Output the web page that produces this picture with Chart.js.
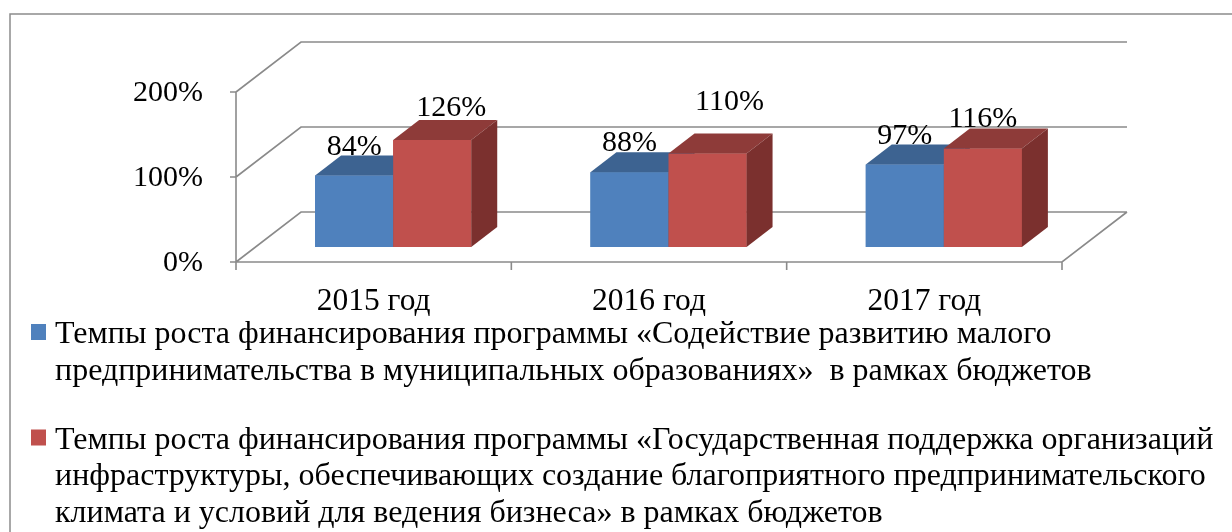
<!DOCTYPE html>
<html>
<head>
<meta charset="utf-8">
<script src="https://cdn.jsdelivr.net/npm/chart.js@4"></script>
<style>
  html, body { margin: 0; padding: 0; background: #fff; }
  canvas { display: block; }
</style>
</head>
<body>
<canvas id="grafica" width="1232" height="532"></canvas>
<script>
// данные
const categories = ['2015 год', '2016 год', '2017 год'];
const smallBizGrowth = [84, 88, 97];
const infraGrowth = [126, 110, 116];
const yTicks = [0, 100, 200];
const smallBizLegend = [
  'Темпы роста финансирования программы «Содействие развитию малого',
  'предпринимательства в муниципальных образованиях»  в рамках бюджетов'
];
const infraLegend = [
  'Темпы роста финансирования программы «Государственная поддержка организаций',
  'инфраструктуры, обеспечивающих создание благоприятного предпринимательского',
  'климата и условий для ведения бизнеса» в рамках бюджетов'
];

const FONT = '30px "Liberation Serif", "Times New Roman", serif';
const CAT_FONT = '31.5px "Liberation Serif", "Times New Roman", serif';
const LEGEND_FONT = '32px "Liberation Serif", "Times New Roman", serif';
const GRID = '#8a8a8a';
// смещения плоскостей относительно передней грани столбцов
const FRONT = { x: -19.5, y: 15 };
const BACK = { x: 45.5, y: -35 };
const DEPTH = { x: 26, y: -20 };

const faceColors = [
  { top: '#3d6391', side: '#34557f' },
  { top: '#8e3b39', side: '#7b302e' }
];

const excel3d = {
  id: 'excel3d',
  beforeDraw(chart) {
    const ctx = chart.ctx;
    ctx.save();
    ctx.strokeStyle = '#8c8c8c';
    ctx.lineWidth = 1.5;
    ctx.strokeRect(10, 14, 1300, 600);
    ctx.restore();
  },
  beforeDatasetsDraw(chart) {
    const ctx = chart.ctx;
    const a = chart.chartArea;
    const ys = chart.scales.y;
    const xs = chart.scales.x;
    ctx.save();
    ctx.strokeStyle = GRID;
    ctx.lineWidth = 1.6;
    ctx.beginPath();
    yTicks.forEach(v => {
      const y = ys.getPixelForValue(v);
      ctx.moveTo(a.left + FRONT.x, y + FRONT.y);
      ctx.lineTo(a.left + BACK.x, y + BACK.y);
      ctx.lineTo(a.right + BACK.x, y + BACK.y);
      // засечки
      ctx.moveTo(a.left + FRONT.x - 6, y + FRONT.y);
      ctx.lineTo(a.left + FRONT.x, y + FRONT.y);
    });
    // ось Y
    ctx.moveTo(a.left + FRONT.x, a.top + FRONT.y);
    ctx.lineTo(a.left + FRONT.x, a.bottom + FRONT.y + 8);
    // пол
    ctx.moveTo(a.left + FRONT.x, a.bottom + FRONT.y);
    ctx.lineTo(a.right + FRONT.x, a.bottom + FRONT.y);
    ctx.lineTo(a.right + BACK.x, a.bottom + BACK.y);
    const n = categories.length;
    for (let i = 1; i <= n; i++) {
      const x = a.left + FRONT.x + i * (a.right - a.left) / n;
      ctx.moveTo(x, a.bottom + FRONT.y);
      ctx.lineTo(x, a.bottom + FRONT.y + 8);
    }
    ctx.stroke();

    ctx.fillStyle = '#000';
    ctx.font = FONT;
    ctx.textAlign = 'right';
    ctx.textBaseline = 'middle';
    yTicks.forEach(v => {
      ctx.fillText(v + '%', a.left + FRONT.x - 33, ys.getPixelForValue(v) + FRONT.y + 1);
    });
    ctx.font = CAT_FONT;
    ctx.textAlign = 'center';
    ctx.textBaseline = 'alphabetic';
    categories.forEach((c, i) => {
      ctx.fillText(c, xs.getPixelForValue(i) + FRONT.x, a.bottom + FRONT.y + 48);
    });
    ctx.restore();
  },
  afterDatasetsDraw(chart, args, opts) {
    const ctx = chart.ctx;
    const metas = chart.data.datasets.map((d, i) => chart.getDatasetMeta(i));
    ctx.save();
    for (let j = 0; j < categories.length; j++) {
      metas.forEach((meta, i) => {
        const el = meta.data[j];
        const p = el.getProps(['x', 'y', 'base', 'width'], true);
        const x0 = p.x - p.width / 2, x1 = p.x + p.width / 2;
        el.draw(ctx);
        ctx.fillStyle = faceColors[i].top;
        ctx.beginPath();
        ctx.moveTo(x0, p.y);
        ctx.lineTo(x1, p.y);
        ctx.lineTo(x1 + DEPTH.x, p.y + DEPTH.y);
        ctx.lineTo(x0 + DEPTH.x, p.y + DEPTH.y);
        ctx.closePath();
        ctx.fill();
        ctx.fillStyle = faceColors[i].side;
        ctx.beginPath();
        ctx.moveTo(x1, p.y);
        ctx.lineTo(x1 + DEPTH.x, p.y + DEPTH.y);
        ctx.lineTo(x1 + DEPTH.x, p.base + DEPTH.y);
        ctx.lineTo(x1, p.base);
        ctx.closePath();
        ctx.fill();
      });
    }
    // подписи данных
    ctx.fillStyle = '#000';
    ctx.font = FONT;
    ctx.textAlign = 'center';
    ctx.textBaseline = 'alphabetic';
    metas.forEach((meta, i) => {
      meta.data.forEach((el, j) => {
        const nudge = opts.nudge[i + '-' + j] || [0, 0];
        const v = chart.data.datasets[i].data[j];
        ctx.fillText(v + '%', el.x + nudge[0], el.y + DEPTH.y - 1 + nudge[1]);
      });
    });
    ctx.restore();
  },
  afterDraw(chart) {
    const ctx = chart.ctx;
    ctx.save();
    ctx.font = LEGEND_FONT;
    ctx.textAlign = 'left';
    ctx.textBaseline = 'alphabetic';
    let baseline = 343;
    const lineH = 36.5;
    chart.data.datasets.forEach(ds => {
      ctx.fillStyle = ds.backgroundColor;
      ctx.fillRect(31, baseline - 19, 15, 16);
      ctx.fillStyle = '#000';
      ds.legendLines.forEach(line => {
        ctx.fillText(line, 55, baseline);
        baseline += lineH;
      });
      baseline += 32.5;
    });
    ctx.restore();
  }
};

new Chart(document.getElementById('grafica'), {
  type: 'bar',
  data: {
    labels: categories,
    datasets: [
      {
        label: smallBizLegend.join(' '),
        legendLines: smallBizLegend,
        data: smallBizGrowth,
        backgroundColor: '#4f81bd'
      },
      {
        label: infraLegend.join(' '),
        legendLines: infraLegend,
        data: infraGrowth,
        backgroundColor: '#c0504d'
      }
    ]
  },
  options: {
    responsive: false,
    animation: false,
    categoryPercentage: 0.567,
    barPercentage: 1,
    layout: { padding: { left: 255.5, right: 150.5, top: 77, bottom: 285 } },
    scales: {
      x: { display: false, offset: true },
      y: { display: false, min: 0, max: 200 }
    },
    plugins: {
      legend: { display: false },
      tooltip: { enabled: false },
      excel3d: { nudge: { '1-0': [19, -3], '1-1': [22, -23] } }
    }
  },
  plugins: [excel3d]
});
</script>
</body>
</html>
